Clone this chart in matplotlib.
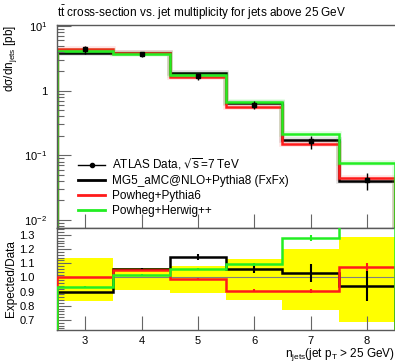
import matplotlib
matplotlib.use("Agg")
import matplotlib.pyplot as plt
import numpy as np
from matplotlib.lines import Line2D
from matplotlib.ticker import FixedLocator, MultipleLocator, NullLocator, LogLocator

plt.rcParams['font.family'] = ['Liberation Sans', 'DejaVu Sans']
plt.rcParams['mathtext.default'] = 'regular'

# jet multiplicity bins
njets = [3, 4, 5, 6, 7, 8]
edges = [2.5, 3.5, 4.5, 5.5, 6.5, 7.5, 8.5]

# cross-sections in pb
data = [4.35, 3.65, 1.66, 0.61, 0.165, 0.042]
mg5 = [3.89, 3.86, 1.90, 0.648, 0.170, 0.0395]
pp6 = [4.35, 3.83, 1.64, 0.553, 0.149, 0.0451]
phw = [4.07, 3.72, 1.76, 0.667, 0.211, 0.076]

# relative uncertainties
band_lo = [0.836, 0.912, 0.893, 0.841, 0.771, 0.688]   # total, lower edge
band_hi = [1.14, 1.065, 1.083, 1.13, 1.201, 1.283]     # total, upper edge
stat_rel = [0.004, 0.007, 0.017, 0.027, 0.06, 0.115]   # data stat
mc_rel = [0.003, 0.004, 0.006, 0.01, 0.015, 0.025]    # MC stat

data = np.array(data)
x = np.array(njets)

W, H = 395, 364
fig = plt.figure(figsize=(W / 100, H / 100), dpi=100)
ax = fig.add_axes([57 / W, 1 - 228 / H, 1 - 57 / W, 203 / H])
ax2 = fig.add_axes([57 / W, 1 - 330 / H, 1 - 57 / W, 102 / H])

colors = {'mg5': 'black', 'pp6': '#ff1a1a', 'phw': '#22ee22'}

# top panel
ax.set_yscale('log')
for vals, c in [(mg5, colors['mg5']), (pp6, colors['pp6']), (phw, colors['phw'])]:
    ax.stairs(vals, edges, baseline=1e-4, color=c, lw=4, alpha=0.12)
    ax.stairs(vals, edges, baseline=1e-4, color=c, lw=1.8)
yerr = [data * (1 - np.array(band_lo)), data * (np.array(band_hi) - 1)]
ax.errorbar(x, data, yerr=yerr, fmt='s', color='black', ms=3, lw=1, capsize=0, zorder=5)
ax.set_xlim(2.5, 8.5)
ax.set_ylim(0.0075, 10.4)

# ratio panel
ax2.bar(x, np.array(band_hi) - np.array(band_lo), bottom=band_lo, width=1.0,
        color='#ffff00', edgecolor='none', zorder=1)
ax2.axhline(1.0, color='#808080', lw=0.8, zorder=2)
for vals, c, err in [(mg5, colors['mg5'], stat_rel), (pp6, colors['pp6'], mc_rel),
                     (phw, colors['phw'], mc_rel)]:
    r = np.array(vals) / data
    ax2.stairs(r, edges, color=c, lw=1.8, zorder=3)
    ax2.errorbar(x, r, yerr=r * np.array(err), fmt='none', ecolor=c, lw=1.5, capsize=0, zorder=3)
ax2.set_xlim(2.5, 8.5)
ax2.set_ylim(0.629, 1.349)

# ticks
for a in (ax, ax2):
    a.xaxis.set_major_locator(FixedLocator(njets))
    a.xaxis.set_minor_locator(NullLocator())
    a.tick_params(axis='both', which='both', direction='in', color='0.4', width=0.8, labelsize=8)
    a.tick_params(axis='x', which='major', length=10, top=False)
    a.tick_params(axis='y', which='major', length=10, right=False)
    a.tick_params(axis='y', which='minor', length=5, right=False)
    a.spines['right'].set_visible(False)
    for s in ('left', 'top', 'bottom'):
        a.spines[s].set_color('0.35')
        a.spines[s].set_linewidth(1)

ax.set_xticklabels([])
ax.yaxis.set_major_locator(FixedLocator([0.01, 0.1, 1, 10]))
ax.yaxis.set_minor_locator(LogLocator(base=10, subs=np.arange(2, 10)))
ax.set_yticklabels(['$10^{-2}$', '$10^{-1}$', '1', '$10^{1}$'])
ax.tick_params(axis='y', pad=7)
ax.tick_params(axis='y', which='minor', labelleft=False)

ax2.yaxis.set_major_locator(MultipleLocator(0.1))
ax2.yaxis.set_minor_locator(MultipleLocator(0.02))
ax2.yaxis.set_major_formatter(lambda v, p: '%.1f' % v)
ax2.tick_params(axis='y', pad=16)
ax2.tick_params(axis='x', pad=4)

# labels
fig.text(57 / W, 1 - 13 / H, r'$t\bar{t}$ cross-section vs. jet multiplicity for jets above 25 GeV',
         fontsize=8.5, va='center', ha='left')
ax.set_ylabel(r'd$\sigma$/dn$_{jets}$ [pb]', fontsize=8.5, loc='top')
ax.yaxis.set_label_coords(-(57 - 19) / 338, 1.0)
ax2.set_ylabel('Expected/Data', fontsize=8.5)
ax2.yaxis.set_label_coords(-(57 - 17) / 338, 0.5)
ax2.set_xlabel(r'n$_{jets}$(jet p$_{T}$ > 25 GeV)', fontsize=8.5, loc='right', labelpad=0)

# legend
handles = [
    Line2D([], [], color='black', lw=1, marker='o', ms=3),
    Line2D([], [], color=colors['mg5'], lw=2),
    Line2D([], [], color=colors['pp6'], lw=2),
    Line2D([], [], color=colors['phw'], lw=2),
]
labels = [r'ATLAS Data, $\sqrt{s}$=7 TeV', 'MG5_aMC@NLO+Pythia8 (FxFx)',
          'Powheg+Pythia6', 'Powheg+Herwig++']
ax.legend(handles, labels, loc='upper left', bbox_to_anchor=(0.045, 0.38), frameon=False,
          fontsize=8.5, handlelength=2.3, handletextpad=0.6, labelspacing=0.25, borderpad=0)

fig.savefig('out.png', dpi=100)
